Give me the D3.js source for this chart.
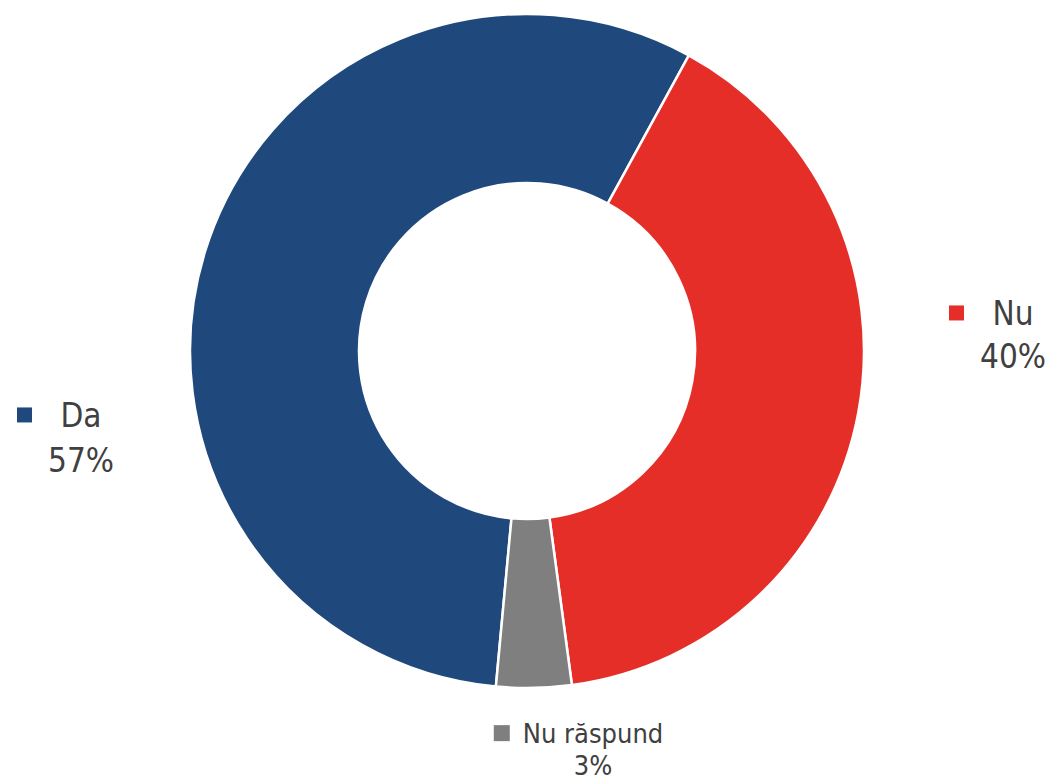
<!DOCTYPE html>
<html>
<head>
<meta charset="utf-8">
<script src="https://cdn.jsdelivr.net/npm/d3@7"></script>
<style>
  html, body { margin: 0; padding: 0; background: #fff; }
  svg { display: block; }
  text { font-family: "DejaVu Sans Condensed", "DejaVu Sans", sans-serif; fill: #404040; }
</style>
</head>
<body>
<svg id="chart" width="1049" height="782"></svg>
<script>
// Data
const categories = ["Da", "Nu", "Nu răspund"];
const values = [56.5, 39.9, 3.6];
const valueLabels = ["57%", "40%", "3%"];
const colors = ["#1F497D", "#E52E27", "#7F7F7F"];

// Layout
const W = 1049, H = 782;
const cx = 527, cy = 351;
const outerR = 337, innerR = 168;
const startDeg = -174.7;

// label layout
const labelLayout = [
  { x: 81, y: 427, size: 33, gap: 45, mGap: 16, mSize: 15 },
  { x: 1013, y: 325, size: 33, gap: 43, mGap: 16, mSize: 15 },
  { x: 593, y: 743, size: 27, gap: 32, mGap: 13, mSize: 16 }
];

const svg = d3.select("#chart");
const g = svg.append("g").attr("transform", `translate(${cx},${cy})`);

const pie = d3.pie().sort(null).value(d => d.v)
  .startAngle(startDeg * Math.PI / 180)
  .endAngle(startDeg * Math.PI / 180 + 2 * Math.PI);
const arc = d3.arc().innerRadius(innerR).outerRadius(outerR);

const data = categories.map((c, i) => ({ c, v: values[i], color: colors[i], label: valueLabels[i] }));

g.selectAll("path").data(pie(data)).join("path")
  .attr("d", arc)
  .attr("fill", d => d.data.color)
  .attr("stroke", "#fff")
  .attr("stroke-width", 2.5)
  .attr("stroke-linejoin", "miter");

// Labels
data.forEach((d, i) => {
  const L = labelLayout[i];
  const lg = svg.append("g");
  const t1 = lg.append("text")
    .attr("x", L.x).attr("y", L.y)
    .attr("text-anchor", "middle")
    .attr("font-size", L.size)
    .text(d.c);
  const t2 = lg.append("text")
    .attr("x", L.x).attr("y", L.y + L.gap)
    .attr("text-anchor", "middle")
    .attr("font-size", L.size)
    .text(d.label);
  const left = Math.min(t1.node().getBBox().x, t2.node().getBBox().x);
  const capMid = L.y - L.size * 0.365;
  lg.append("rect")
    .attr("x", left - L.mGap - L.mSize)
    .attr("y", capMid - L.mSize / 2)
    .attr("width", L.mSize).attr("height", L.mSize)
    .attr("fill", d.color);
});
</script>
</body>
</html>
